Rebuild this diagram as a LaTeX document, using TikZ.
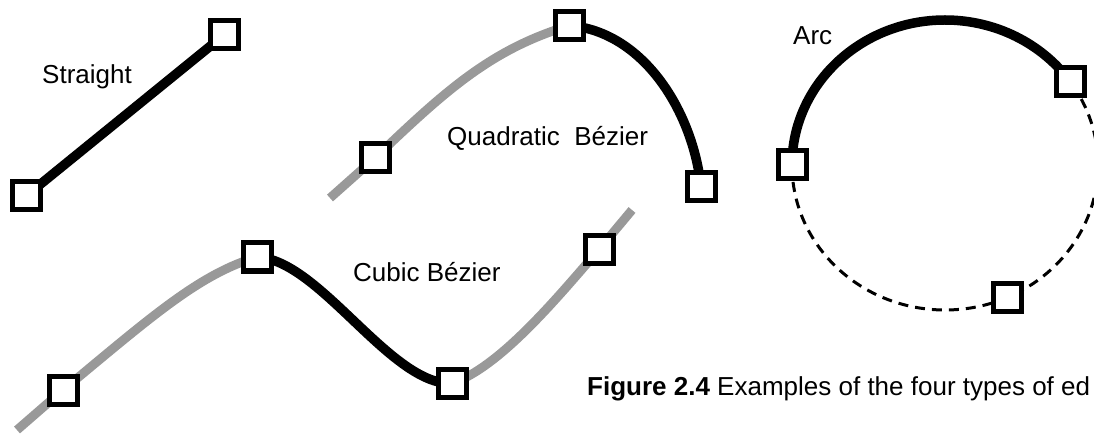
\documentclass[tikz,border=0pt]{standalone}
\usepackage{fontspec}
\setmainfont{Liberation Sans}
\usetikzlibrary{backgrounds}
\definecolor{guidegray}{gray}{0.6}

\begin{document}
\begin{tikzpicture}[x=1pt,y=1pt,
        handle/.style={draw,rectangle,line width=5pt,fill=white,minimum size=28pt,inner sep=0pt},
        edge/.style={line width=9.5pt,black},
        guide/.style={line width=9pt,guidegray},
        lbl/.style={anchor=base west,inner sep=0pt,font=\fontsize{26}{30}\selectfont}]
    \useasboundingbox (0,0) rectangle (1094,434);

    % straight edge
    \node[handle] (s1) at (26.5,238.5) {};
    \node[handle] (s2) at (224,399) {};
    \node[lbl] (straightlbl) at (42,350) {Straight};

    % quadratic bezier
    \coordinate (q0) at (330,236);
    \node[handle] (q1) at (375,276) {};
    \node[handle] (q2) at (569.5,408.5) {};
    \node[handle] (q3) at (701,247) {};
    \node[lbl] (quadlbl) at (447,288) {Quadratic\ \ Bézier};

    % cubic bezier
    \coordinate (c0) at (17,4);
    \node[handle] (c1) at (63,44) {};
    \node[handle] (c2) at (257,177) {};
    \node[handle] (c3) at (452,50.5) {};
    \node[handle] (c4) at (599,184.5) {};
    \coordinate (c5) at (632,224);
    \node[lbl] (cubiclbl) at (353,153) {Cubic Bézier};

    % arc, the rest of the ellipse is dashed
    \node[handle] (a1) at (792,269) {};
    \node[handle] (a2) at (1070.3,352.2) {};
    \node[handle] (a3) at (1007.2,136.5) {};
    \node[lbl] (arclbl) at (793,389) {Arc};

    \node[lbl] (caption) at (587,39) {\textbf{Figure 2.4} Examples of the four types of ed};

    \begin{scope}[on background layer]
        \draw[edge] (s1.center) -- (s2.center);

        \draw[guide] (q0) -- (q1.center) .. controls (447,345) and (492,385) .. (q2.center);
        \draw[edge] (q2.center) .. controls (644,402) and (693,322) .. (q3.center);

        \draw[guide] (c0) -- (c1.center) .. controls (150,116) and (199,160) .. (c2.center);
        \draw[edge] (c2.center) .. controls (320,174) and (390,49) .. (c3.center);
        \draw[guide] (c3.center) .. controls (499,67) and (553,131) .. (c4.center) -- (c5);

        \draw[edge] (a1.center) arc[start angle=180,end angle=35,x radius=153,y radius=145];
        \draw[line width=3pt,dash pattern=on 10pt off 7pt] (a1.center) arc[start angle=180,end angle=395,x radius=153,y radius=145]; % passes a3
    \end{scope}
\end{tikzpicture}
\end{document}
